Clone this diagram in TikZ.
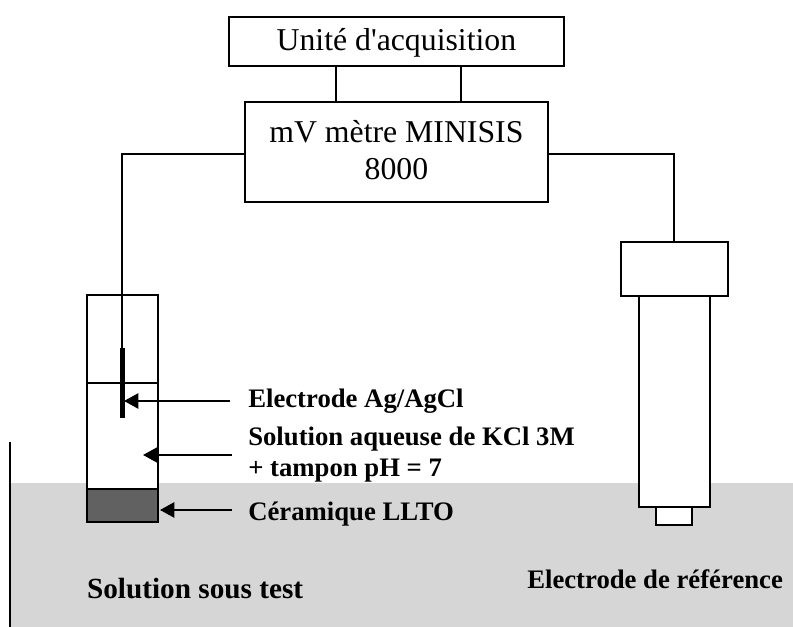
\documentclass[tikz,border=0pt]{standalone}
\usepackage{fontspec}
\setmainfont{Liberation Serif}[Ligatures=TeXOff]
\usepackage{tikz}
\usetikzlibrary{positioning, arrows.meta, calc}

\begin{document}
\begin{tikzpicture}[
  box/.style={draw, line width=1.4pt, fill=white, align=center, inner sep=0pt, font=\fontsize{22.6}{26.5}\selectfont},
  part/.style={draw, line width=1.4pt, fill=white, inner sep=0pt, outer sep=0pt},
  wire/.style={line width=1.3pt},
  arrow/.style={-{Triangle[length=3.6mm,width=3.8mm]}, line width=1.6pt},
  caption/.style={anchor=base west, font=\fontsize{19}{23}\selectfont\bfseries, inner sep=0pt}
]
  \useasboundingbox (0, 0) rectangle (19.825, 15.675);
  % bath
  \fill[gray!32] (0.25, 0) rectangle (19.825, 3.6);
  \draw[wire] (0.25, 0) -- (0.25, 4.625);
  % instruments
  \node[box, text height=18.2pt, minimum width=8.375cm, minimum height=1.225cm] (unit) at (9.91, 14.64) {Unit\'e d'acquisition};
  \node[box, text depth=2.8pt, minimum width=7.575cm, minimum height=2.5cm] (meter) at (9.91, 11.875) {mV m\`etre MINISIS\\8000};
  \coordinate (unitl) at (8.4, 14.025);
  \coordinate (unitr) at (11.525, 14.025);
  \draw[wire] (unitl) -- (unitl |- meter.north);
  \draw[wire] (unitr) -- (unitr |- meter.north);
  % test cell
  \node[part, minimum width=1.775cm, minimum height=5.675cm] (cell) at (3.06, 5.46) {};
  \node[part, fill=black!62, minimum width=1.775cm, minimum height=0.825cm] (ceramic) at (3.06, 3.04) {};
  \coordinate (levell) at (2.17, 6.1);
  \coordinate (levelr) at (3.95, 6.1);
  \draw[wire] (levell) -- (levelr);
  \node[fill=black, minimum width=0.125cm, minimum height=1.75cm, inner sep=0pt] (silver) at (3.05, 6.1) {};
  % reference electrode
  \node[part, minimum width=2.675cm, minimum height=1.35cm] (cap) at (16.86, 8.95) {};
  \node[part, minimum width=1.775cm, minimum height=5.275cm, below=0pt of cap] (body) {};
  \node[part, minimum width=0.9cm, minimum height=0.45cm, below=0pt of body] (tip) {};
  % wires
  \coordinate (wirey) at (0, 11.825);
  \draw[wire] (meter.west |- wirey) -| (silver.north);
  \draw[wire] (meter.east |- wirey) -| (cap.north);
  % captions
  \node[caption] (ag) at (6.2, 5.475) {Electrode Ag/AgCl};
  \node[caption] (kcl) at (6.2, 4.525) {Solution aqueuse de KCl 3M};
  \node[caption] (ph) at (6.2, 3.75) {+ tampon pH = 7};
  \node[caption] (llto) at (6.2, 2.65) {C\'eramique LLTO};
  \node[caption, font=\fontsize{20.8}{25}\selectfont\bfseries] (test) at (2.17, 0.72) {Solution sous test};
  \node[caption] (ref) at (13.175, 0.97) {Electrode de r\'ef\'erence};
  \coordinate (agend) at (3.1, 5.65);
  \coordinate (kclend) at (3.575, 4.3);
  \coordinate (lltoend) at (4.0, 2.925);
  \draw[arrow] (5.75, 5.65) -- (agend);
  \draw[arrow] (5.8, 4.3) -- (kclend);
  \draw[arrow] (5.8, 2.925) -- (lltoend);
\end{tikzpicture}
\end{document}
